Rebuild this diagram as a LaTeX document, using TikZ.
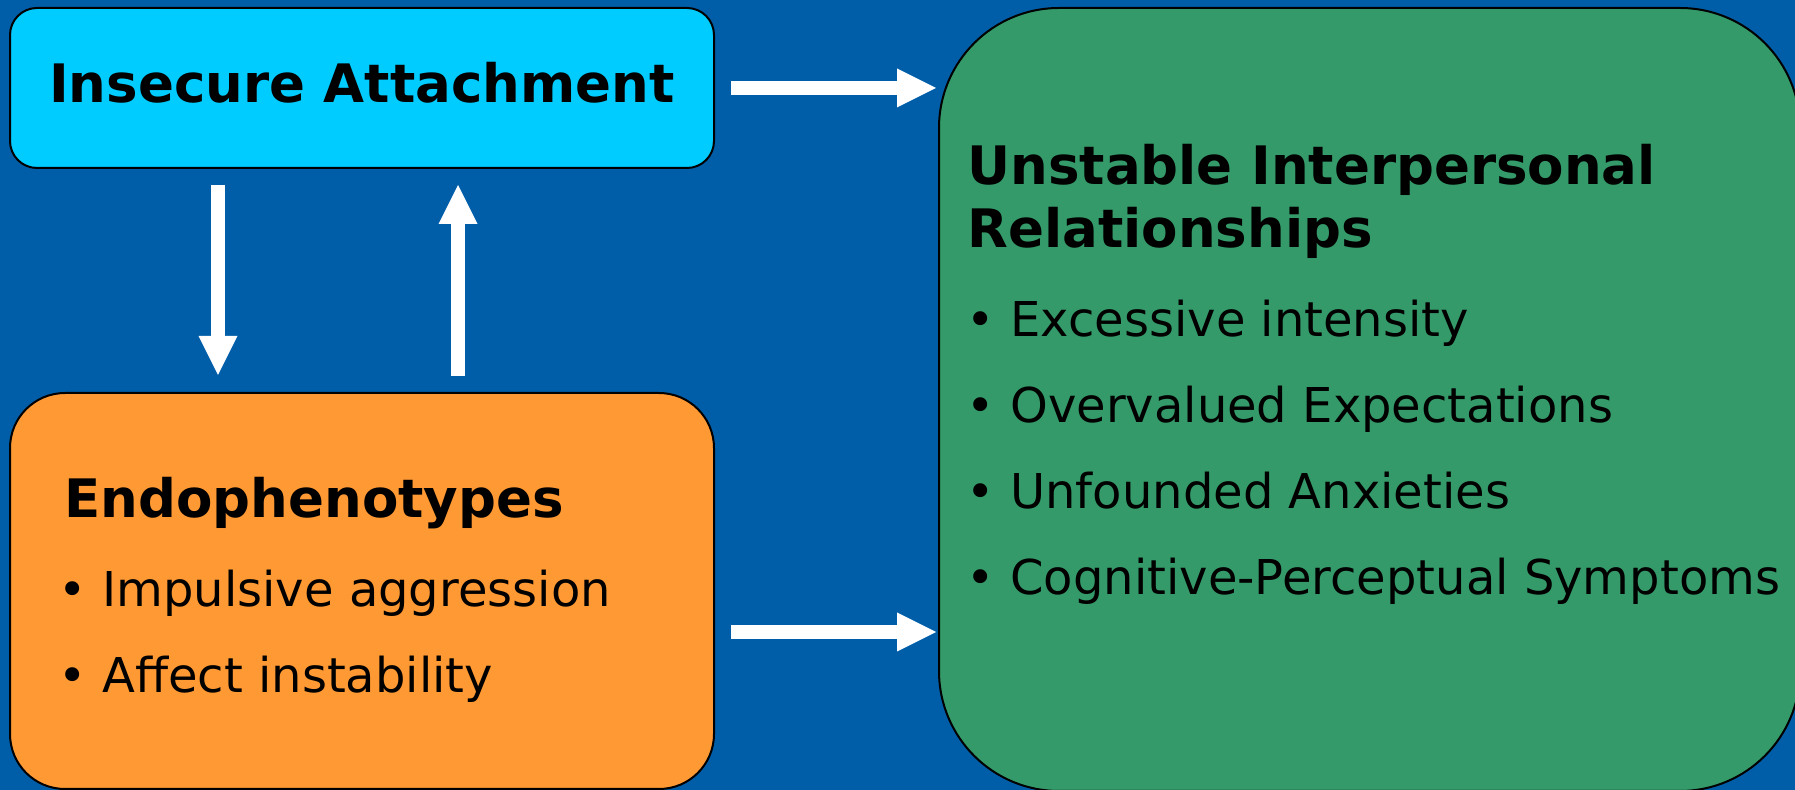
\documentclass[tikz,border=0pt]{standalone}
\usepackage{fontspec}
\setmainfont{DejaVu Sans}
\usepackage{tikz}
\usetikzlibrary{arrows.meta,positioning}

\definecolor{slideblue}{HTML}{005EA8}
\definecolor{attachcyan}{HTML}{00CCFF}
\definecolor{endoorange}{HTML}{FF9933}
\definecolor{relgreen}{HTML}{359A69}

\tikzset{
  panel/.style={draw=black, line width=1pt, inner sep=0pt},
  heading/.style={font=\fontsize{26.5}{31.5}\selectfont\bfseries, anchor=base west, inner sep=0pt},
  point/.style={font=\fontsize{24}{28}\selectfont, anchor=base west, inner sep=0pt},
  flow/.style={white, line width=7pt, -{Triangle[width=19.5pt, length=19.5pt, line width=0pt]}},
}
\newcommand{\bul}{\llap{\textbullet\hspace{0.32em}}}

\begin{document}
\begin{tikzpicture}[x=0.5pt, y=-0.5pt]
  \fill[slideblue] (0,0) rectangle (1795,790);
  \useasboundingbox (0,0) rectangle (1795,790);

  % the three boxes
  \node[panel, fill=attachcyan, rounded corners=13.5pt, minimum width=352pt, minimum height=80pt,
        font=\fontsize{26.5}{31.5}\selectfont\bfseries, text height=21pt, text depth=6pt]
        (attach) at (362,88) {Insecure Attachment};
  \node[panel, fill=endoorange, rounded corners=27.5pt, minimum width=352pt, minimum height=198pt]
        (endo) at (362,591) {};
  \node[panel, fill=relgreen, rounded corners=60pt, minimum width=430.5pt, minimum height=391.5pt]
        (rel) at (1369.5,399.5) {};

  % endophenotypes
  \node[heading] (endohead) at (64,518) {Endophenotypes};
  \node[point] (endoa) at (102,607) {\bul Impulsive aggression};
  \node[point] (endob) at (102,693) {\bul Affect instability};

  % relationships
  \node[heading] (relhead) at (967,185) {Unstable Interpersonal};
  \node[heading] (relheadb) at (967,248) {Relationships};
  \node[point] (rela) at (1010,337) {\bul Excessive intensity};
  \node[point] (relb) at (1010,423) {\bul Overvalued Expectations};
  \node[point] (relc) at (1010,509) {\bul Unfounded Anxieties};
  \node[point] (reld) at (1010,595) {\bul Cognitive-Perceptual Symptoms};

  % arrows
  \draw[flow] ([xshift=8pt]attach.east) -- ([xshift=-1pt]attach.east -| rel.west);
  \draw[flow] ([xshift=8pt,yshift=-20.5pt]endo.east) -- ([xshift=-1pt,yshift=-20.5pt]endo.east -| rel.west);
  \draw[flow] ([xshift=-72pt,yshift=-8pt]attach.south) -- ([xshift=-72pt,yshift=8.5pt]endo.north);
  \draw[flow] ([xshift=48pt,yshift=8pt]endo.north) -- ([xshift=48pt,yshift=-8pt]attach.south);
\end{tikzpicture}
\end{document}
